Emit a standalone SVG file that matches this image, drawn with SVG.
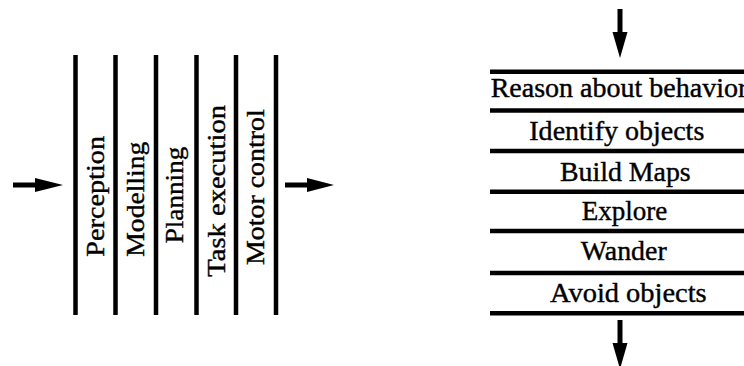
<svg xmlns="http://www.w3.org/2000/svg" width="744" height="366" viewBox="0 0 744 366">
<style>
  .bar { stroke: #000; stroke-width: 4.5; fill: none; }
  .shaft { stroke: #000; stroke-width: 5; fill: none; }
  .head { fill: #000; }
  .lt { font-family: "Liberation Serif", "Times New Roman", serif; font-size: 26px; fill: #000; stroke: #000; stroke-width: 0.4; }
  .rt { font-family: "Liberation Serif", "Times New Roman", serif; font-size: 27.5px; fill: #000; stroke: #000; stroke-width: 0.4; }
</style>
<rect width="744" height="366" fill="#fff"/>

<g id="left-layers">
  <line class="bar" x1="75.5" y1="55" x2="75.5" y2="315"/>
  <line class="bar" x1="115.5" y1="55" x2="115.5" y2="315"/>
  <line class="bar" x1="156" y1="55" x2="156" y2="315"/>
  <line class="bar" x1="196.5" y1="55" x2="196.5" y2="315"/>
  <line class="bar" x1="236" y1="55" x2="236" y2="315"/>
  <line class="bar" x1="276" y1="55" x2="276" y2="315"/>
</g>
<g id="perception"><text class="lt" transform="translate(104,256.7) rotate(-90)" textLength="120.7" lengthAdjust="spacingAndGlyphs">Perception</text></g>
<g id="modelling"><text class="lt" transform="translate(143.5,256.7) rotate(-90)" textLength="115" lengthAdjust="spacingAndGlyphs">Modelling</text></g>
<g id="planning"><text class="lt" transform="translate(183,243.3) rotate(-90)" textLength="96.6" lengthAdjust="spacingAndGlyphs">Planning</text></g>
<g id="task-execution"><text class="lt" transform="translate(225,276.7) rotate(-90)" textLength="171.7" lengthAdjust="spacingAndGlyphs">Task execution</text></g>
<g id="motor-control"><text class="lt" transform="translate(264,265) rotate(-90)" textLength="155.7" lengthAdjust="spacingAndGlyphs">Motor control</text></g>

<g id="right-layers">
  <line class="bar" x1="490" y1="71.7" x2="744" y2="71.7"/>
  <line class="bar" x1="490" y1="110.5" x2="744" y2="110.5"/>
  <line class="bar" x1="490" y1="151" x2="744" y2="151"/>
  <line class="bar" x1="490" y1="191.7" x2="744" y2="191.7"/>
  <line class="bar" x1="490" y1="231" x2="744" y2="231"/>
  <line class="bar" x1="490" y1="273" x2="744" y2="273"/>
  <line class="bar" x1="490" y1="313.3" x2="744" y2="313.3"/>
</g>
<g id="reason"><text class="rt" x="490.7" y="96.7" textLength="256.6" lengthAdjust="spacingAndGlyphs">Reason about behavior</text></g>
<g id="identify"><text class="rt" x="529.3" y="140" textLength="175" lengthAdjust="spacingAndGlyphs">Identify objects</text></g>
<g id="build-maps"><text class="rt" x="560" y="180.7" textLength="130.7" lengthAdjust="spacingAndGlyphs">Build Maps</text></g>
<g id="explore"><text class="rt" x="581.7" y="220" textLength="85.6" lengthAdjust="spacingAndGlyphs">Explore</text></g>
<g id="wander"><text class="rt" x="580.7" y="260" textLength="86" lengthAdjust="spacingAndGlyphs">Wander</text></g>
<g id="avoid"><text class="rt" x="550" y="301.7" textLength="156.7" lengthAdjust="spacingAndGlyphs">Avoid objects</text></g>

<g id="connectors">
  <line class="shaft" x1="13" y1="185" x2="37" y2="185"/>
  <polygon class="head" points="35,178 63,185 35,192"/>
  <line class="shaft" x1="285" y1="185" x2="309" y2="185"/>
  <polygon class="head" points="307,178 334,185 307,192"/>
  <line class="shaft" x1="620" y1="9" x2="620" y2="34"/>
  <polygon class="head" points="612.5,32 627.5,32 620,58"/>
  <line class="shaft" x1="620" y1="320" x2="620" y2="345"/>
  <polygon class="head" points="612.5,343 627.5,343 620,369"/>
</g>
</svg>
